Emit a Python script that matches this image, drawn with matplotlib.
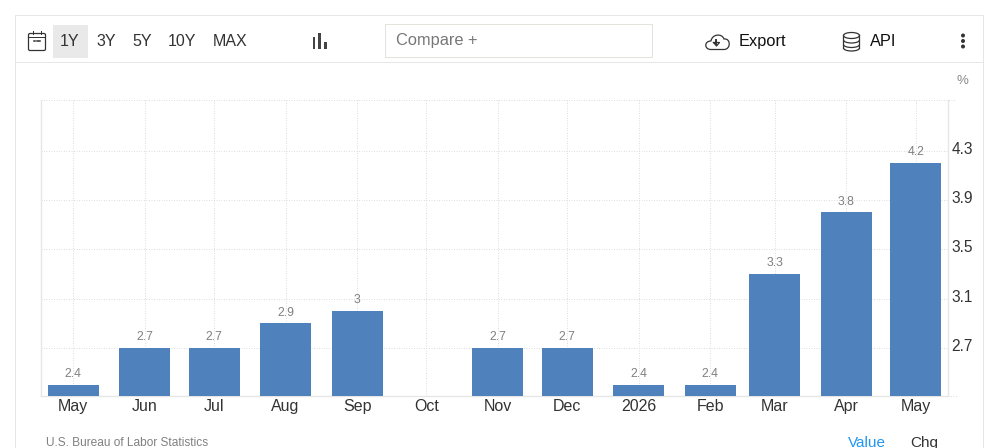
from __future__ import annotations

import matplotlib

matplotlib.use("Agg")
import matplotlib.dates as mdates
import matplotlib.pyplot as plt
import pandas as pd
from matplotlib.patches import Arc, Ellipse, FancyBboxPatch, PathPatch, Rectangle
from matplotlib.path import Path as MplPath
from matplotlib.transforms import ScaledTranslation

months = ["2025-05-01", "2025-06-01", "2025-07-01", "2025-08-01", "2025-09-01", "2025-10-01",
          "2025-11-01", "2025-12-01", "2026-01-01", "2026-02-01", "2026-03-01", "2026-04-01", "2026-05-01"]
values = [2.4, 2.7, 2.7, 2.9, 3.0, None, 2.7, 2.7, 2.4, 2.4, 3.3, 3.8, 4.2]
month_labels = ["May", "Jun", "Jul", "Aug", "Sep", "Oct", "Nov", "Dec", "2026", "Feb", "Mar", "Apr", "May"]
y_ticks = [2.7, 3.1, 3.5, 3.9, 4.3]
ranges = ["1Y", "3Y", "5Y", "10Y", "MAX"]

W, H = 998, 448
BAR_COLOR = "#4f81bd"
GRID = "#dedede"
BORDER = "#e6e6e6"
INK = "#333333"
HAIR = 0.72  # one pixel at dpi 100

plt.rcParams["font.family"] = ["Liberation Sans", "DejaVu Sans"]


def draw_toolbar(ui) -> None:
    # card outline and toolbar separator
    ui.add_patch(Rectangle((15.5, 15.5), 968, 440, fill=False, ec=BORDER, lw=HAIR))
    ui.plot([15.5, 983.5], [62.5, 62.5], color=BORDER, lw=HAIR)

    # calendar icon
    ui.add_patch(FancyBboxPatch((28.5, 33.5), 17, 17, boxstyle="round,pad=0,rounding_size=1.5",
                                fill=False, ec=INK, lw=0.9))
    ui.plot([28.5, 45.5], [37.5, 37.5], color=INK, lw=HAIR)
    for x in (33, 41):
        ui.plot([x, x], [31, 34], color=INK, lw=HAIR)
    for x in (34.5, 37, 39.5):
        ui.plot([x, x + 1], [41, 41], color=INK, lw=1.1)

    # range selector
    ui.add_patch(Rectangle((53, 25), 35, 33, color="#e9e9e9", lw=0))
    range_x = [70, 106, 142, 182, 230]
    for label, x in zip(ranges, range_x):
        ui.text(x, 42, label, ha="center", va="center", fontsize=11.5, color=INK)

    # chart type icon
    ui.add_patch(Rectangle((313, 37), 2.4, 12, color="#444444", lw=0))
    ui.add_patch(Rectangle((318.5, 33), 2.4, 16, color="#444444", lw=0))
    ui.add_patch(Rectangle((324.5, 42), 2.4, 7, color="#444444", lw=0))

    # compare box
    ui.add_patch(Rectangle((385.5, 24.5), 267, 33, fill=False, ec="#e3e3dc", lw=HAIR))
    ui.text(396, 41, "Compare +", ha="left", va="center", fontsize=11.8, color="#777777")

    # export cloud icon
    cloud = MplPath(
        [(711, 49.5), (704, 49.5), (704, 41), (711, 41), (712, 34), (722, 33), (724, 39),
         (731, 38), (731, 49.5), (724, 49.5), (711, 49.5)],
        [MplPath.MOVETO, MplPath.CURVE4, MplPath.CURVE4, MplPath.CURVE4, MplPath.CURVE4, MplPath.CURVE4,
         MplPath.CURVE4, MplPath.CURVE4, MplPath.CURVE4, MplPath.CURVE4, MplPath.LINETO],
    )
    ui.add_patch(PathPatch(cloud, fill=False, ec=INK, lw=0.9))
    ui.plot([716.5, 716.5], [40, 44], color=INK, lw=1.4)
    ui.plot([713.5, 719.5, 716.5, 713.5], [42.5, 42.5, 46, 42.5], color=INK, lw=0.9)
    ui.text(738.5, 41.5, "Export", ha="left", va="center", fontsize=11.8, color="#111111")

    # api database icon, a cylinder with two bands
    ui.add_patch(Ellipse((851.5, 35.5), 16, 6, fill=False, ec=INK, lw=0.9))
    ui.plot([843.5, 843.5], [35.5, 48], color=INK, lw=0.9)
    ui.plot([859.5, 859.5], [35.5, 48], color=INK, lw=0.9)
    for y in (40, 44.5, 48):
        ui.add_patch(Arc((851.5, y), 16, 6, theta1=0, theta2=180, ec=INK, lw=0.9))
    ui.text(870, 41.5, "API", ha="left", va="center", fontsize=11.8, color="#111111")

    # overflow menu dots
    for y in (35.5, 41, 46.5):
        ui.add_patch(Ellipse((963, y), 4, 4, color="#333333", lw=0))

    ui.text(962.5, 81.5, "%", ha="center", va="center", fontsize=9.5, color="#8a8a8a")


def draw_footer(ui) -> None:
    ui.text(46, 443.5, "U.S. Bureau of Labor Statistics", ha="left", va="center", fontsize=8.6, color="#808080")
    ui.text(866.5, 443, "Value", ha="center", va="center", fontsize=11, color="#2196f3")
    ui.text(924, 443, "Chg", ha="center", va="center", fontsize=11, color=INK)


def main() -> None:
    fig = plt.figure(figsize=(W / 100, H / 100), dpi=100, facecolor="white")

    # overlay in pixel units for the toolbar and footer
    ui = fig.add_axes([0, 0, 1, 1])
    ui.set_xlim(0, W)
    ui.set_ylim(H, 0)
    ui.axis("off")
    draw_toolbar(ui)
    draw_footer(ui)

    left, right, top, bottom = 41, 948, 100, 396
    ax = fig.add_axes([left / W, 1 - bottom / H, (right - left) / W, (bottom - top) / H])
    ax.patch.set_alpha(0)

    data = pd.DataFrame({"date": pd.to_datetime(months), "value": values, "label": month_labels})
    x = mdates.date2num(data["date"])
    has_value = data["value"].notna().to_numpy()

    ax.bar(x[has_value], data["value"][has_value], width=22.1, color=BAR_COLOR, zorder=3, bottom=0)
    for xi, v in zip(x[has_value], data["value"][has_value]):
        ax.annotate(f"{v:g}", (xi, v), xytext=(0, 3.2), textcoords="offset points", ha="center", va="bottom",
                    fontsize=8.8, color="#808080", zorder=4)

    ax.set_xlim(x[0] - 14.0, x[0] + 379.0)
    ax.set_ylim(2.31, 4.71)

    ax.set_xticks(x)
    ax.set_xticklabels(month_labels)
    ax.set_yticks(y_ticks)
    ax.set_yticklabels([f"{t:g}" for t in y_ticks])
    ax.yaxis.tick_right()
    ax.tick_params(axis="x", length=0, pad=2.5, labelsize=11.5, labelcolor=INK)
    ax.tick_params(axis="y", length=0, pad=2.5, labelsize=11.2, labelcolor=INK)

    # value labels on the y axis sit just above their gridlines
    lift = ScaledTranslation(0, 2 / 72, fig.dpi_scale_trans)
    for label in ax.get_yticklabels():
        label.set_transform(label.get_transform() + lift)

    dotted = (0, (1, 1.5))
    ax.grid(True, color=GRID, linestyle=dotted, linewidth=HAIR, zorder=0)
    ax.set_axisbelow(True)

    # top and bottom rules run slightly past the right edge
    ax.plot([0, 1.008], [1, 1], transform=ax.transAxes, color=GRID, linestyle=dotted, lw=HAIR, clip_on=False)
    ax.plot([1, 1.01], [0, 0], transform=ax.transAxes, color=GRID, linestyle=dotted, lw=HAIR, clip_on=False)

    ax.spines["top"].set_visible(False)
    for side in ("left", "right", "bottom"):
        ax.spines[side].set_color(BORDER)
        ax.spines[side].set_linewidth(1.0)

    fig.savefig("out.png", dpi=100)
    plt.close(fig)


if __name__ == "__main__":
    main()
